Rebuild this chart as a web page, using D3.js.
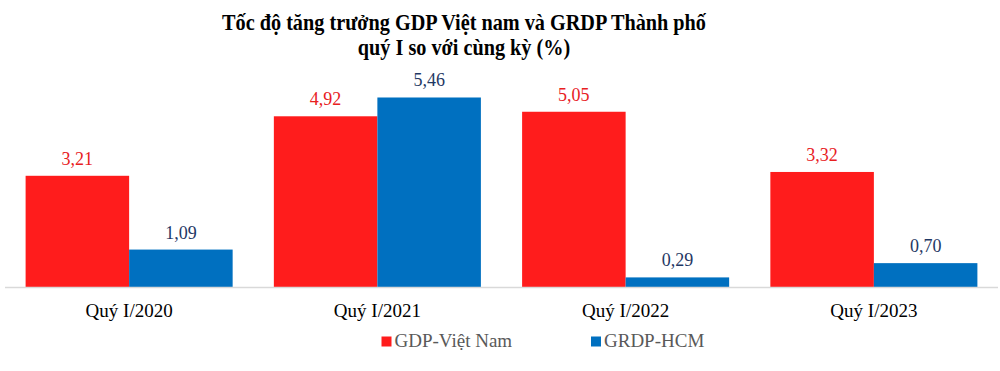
<!DOCTYPE html>
<html><head><meta charset="utf-8">
<script src="https://cdn.jsdelivr.net/npm/d3@7"></script>
<style>body{margin:0;background:#fff}svg{display:block}</style>
</head><body>
<svg id="c" width="1000" height="371"></svg>
<script>
const categories = ["Quý I/2020", "Quý I/2021", "Quý I/2022", "Quý I/2023"];
const seriesNames = ["GDP-Việt Nam", "GRDP-HCM"];
const gdpVN = [3.21, 4.92, 5.05, 3.32];
const grdpHCM = [1.09, 5.46, 0.29, 0.70];
const valueLabels = [["3,21","4,92","5,05","3,32"],["1,09","5,46","0,29","0,70"]];
const titleLines = ["Tốc độ tăng trưởng GDP Việt nam và GRDP Thành phố", "quý I so với cùng kỳ (%)"];

const barColors = ["#FF1C1C", "#0070C0"];
const labelColors = ["#E8201E", "#1F3864"];
const font = "'Liberation Serif','Times New Roman',serif";

const svg = d3.select("#c");
const x0 = d3.scaleBand().domain(categories).range([5, 998]).paddingInner(0.166).paddingOuter(0.083);
const x1 = d3.scaleBand().domain([0,1]).range([0, x0.bandwidth()]);
const y = d3.scaleLinear().domain([0, 6]).range([287.5, 78.7]);

const series = [gdpVN, grdpHCM];
categories.forEach((c, i) => {
  series.forEach((s, j) => {
    svg.append("rect")
      .attr("x", x0(c) + x1(j)).attr("width", x1.bandwidth())
      .attr("y", y(s[i])).attr("height", y(0) - y(s[i]))
      .attr("fill", barColors[j]);
    svg.append("text")
      .attr("x", x0(c) + x1(j) + x1.bandwidth()/2)
      .attr("y", y(s[i]) - 11)
      .attr("text-anchor", "middle")
      .attr("font-family", font).attr("font-size", 18)
      .attr("fill", labelColors[j])
      .text(valueLabels[j][i]);
  });
});

// axis
const xAxis = d3.axisBottom(x0).tickSize(0).tickPadding(0);
const ax = svg.append("g").attr("transform", `translate(0,${y(0)})`).call(xAxis);
ax.select(".domain").attr("stroke", "#D9D9D9").attr("stroke-width", 1.5).attr("d", "M5,0H998");
ax.selectAll(".tick text").attr("font-family", font).attr("font-size", 19)
  .attr("fill", "#000").attr("dy", null).attr("y", 29.5);

// title
svg.selectAll(".title").data(titleLines).enter().append("text")
  .attr("transform", (d, i) => `translate(464,${29.5 + i * 25}) scale(0.88,1)`)
  .attr("text-anchor", "middle")
  .attr("font-family", font).attr("font-weight", "bold").attr("font-size", 23)
  .attr("fill", "#000").text(d => d);

// legend
const legX = [381.5, 591];
seriesNames.forEach((n, j) => {
  const g = svg.append("g").attr("transform", `translate(${legX[j]},0)`);
  g.append("rect").attr("x", 0).attr("y", 336.5).attr("width", 10).attr("height", 10).attr("fill", barColors[j]);
  g.append("text").attr("x", 13).attr("y", 347).attr("font-family", font).attr("font-size", 19)
    .attr("fill", "#595959").text(n);
});
</script>
</body></html>
